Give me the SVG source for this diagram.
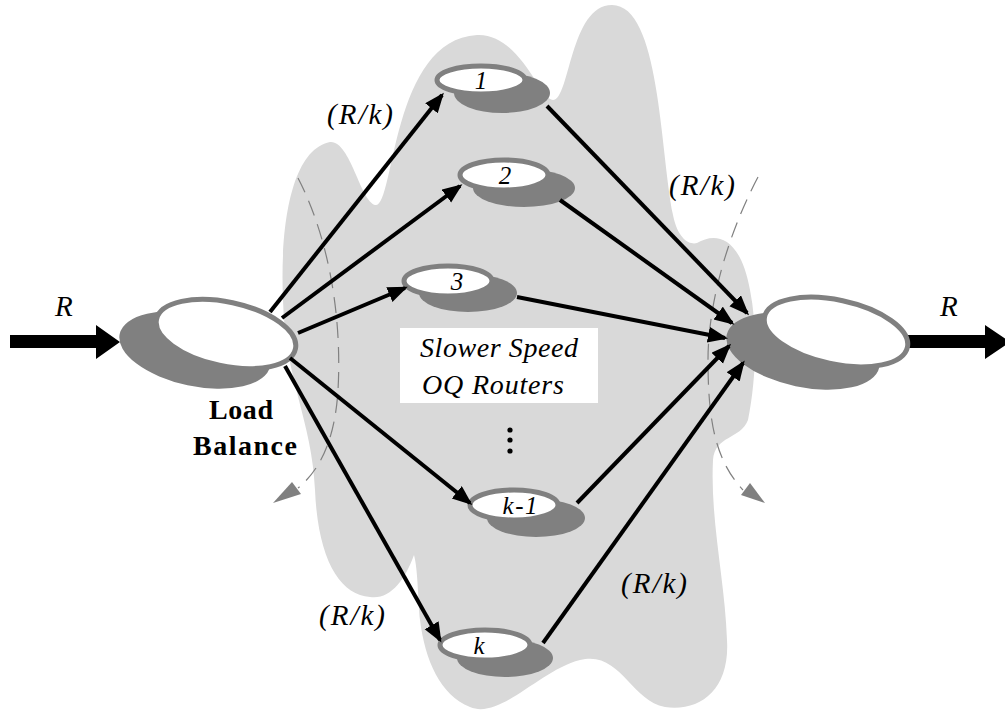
<svg xmlns="http://www.w3.org/2000/svg" width="1005" height="712" viewBox="0 0 1005 712">
<defs>
<style>
.shadow{fill:#808080;stroke:none}
.face{fill:#ffffff;stroke:#808080;stroke-width:5}
.conn{stroke:#000;stroke-width:4;fill:none;marker-end:url(#ah)}
.dash{stroke:#808080;stroke-width:1.2;fill:none;stroke-dasharray:16 9}
.lbl{font-family:"Liberation Serif","DejaVu Serif",serif;font-style:italic;font-size:29px;fill:#000}
.txt{font-family:"Liberation Serif","DejaVu Serif",serif;font-style:italic;font-size:28px;fill:#000;text-anchor:middle}
.num{font-family:"Liberation Serif","DejaVu Serif",serif;font-style:italic;font-size:25px;fill:#000;text-anchor:middle}
.bold{font-family:"Liberation Serif","DejaVu Serif",serif;font-weight:bold;font-size:28px;fill:#000;text-anchor:middle}
</style>
<marker id="ah" markerUnits="userSpaceOnUse" markerWidth="22" markerHeight="18" refX="17" refY="8" orient="auto">
<path d="M0,0 L20,8 L0,16 Z" fill="#000"/>
</marker>
</defs>
<rect width="1005" height="712" fill="#fff"/>
<g id="cloud">
<path d="M283,300 C280,230 290,150 330,142 C350,140 360,200 375,205 C395,210 390,40 477,35 C520,33 540,100 553,100 C570,100 570,5 612,5 C660,5 660,150 673,215 C678,240 690,245 697,243 C715,232 740,235 750,290 C758,330 756,380 748,420 C740,440 715,435 713,460 C710,520 725,580 727,640 C730,690 700,712 665,707 C630,700 620,650 580,660 C540,670 500,720 470,707 C440,695 425,660 420,620 C418,600 418,570 414,555 C405,580 390,600 370,597 C340,595 318,560 315,490 C312,420 285,380 283,300 Z" fill="#d9d9d9"/>
</g>
<g id="dashed-curves">
<path class="dash" d="M298,178 C330,240 342,320 338,390 C335,440 320,470 298,488"/>
<path d="M273,503 L292,482 L301,494 Z" fill="#808080"/>
<path class="dash" d="M758,177 C730,230 708,300 708,360 C708,420 715,460 743,490"/>
<path d="M765,503 L741,495 L750,483 Z" fill="#808080"/>
</g>
<g id="input-arrow">
<path d="M10,335 H96 V325 L120,342 L96,359 V348 H10 Z" fill="#000"/>
<text class="lbl" x="55" y="316">R</text>
</g>
<g id="output-arrow">
<path d="M905,335 H985 V325 L1010,342 L985,359 V348 H905 Z" fill="#000"/>
<text class="lbl" x="940" y="316">R</text>
</g>
<g id="load-balance">
<ellipse class="shadow" cx="195" cy="350" rx="77" ry="36" transform="rotate(12 195 350)"/>
<ellipse class="face" cx="226" cy="334" rx="71" ry="32" transform="rotate(12 226 334)"/>
<text class="bold" x="241" y="419" textLength="64" lengthAdjust="spacing">Load</text>
<text class="bold" x="245" y="455" textLength="104" lengthAdjust="spacing">Balance</text>
</g>
<g id="output-router">
<ellipse class="shadow" cx="803" cy="351" rx="78" ry="36" transform="rotate(12 803 351)"/>
<ellipse class="face" cx="836" cy="332" rx="73" ry="32" transform="rotate(12 836 332)"/>
</g>
<g id="router-1">
<ellipse class="shadow" cx="502" cy="93" rx="48" ry="20"/>
<ellipse class="face" cx="481" cy="80" rx="44" ry="14"/>
<text class="num" x="481" y="89">1</text>
</g>
<g id="router-2">
<ellipse class="shadow" cx="524" cy="188" rx="51" ry="19"/>
<ellipse class="face" cx="504" cy="175" rx="44" ry="15"/>
<text class="num" x="505" y="184">2</text>
</g>
<g id="router-3">
<ellipse class="shadow" cx="468" cy="293" rx="49" ry="19"/>
<ellipse class="face" cx="448" cy="281" rx="44" ry="15"/>
<text class="num" x="457" y="290">3</text>
</g>
<g id="router-k-1">
<ellipse class="shadow" cx="536" cy="518" rx="49" ry="19"/>
<ellipse class="face" cx="514" cy="505" rx="44" ry="15"/>
<text class="num" x="520" y="514" textLength="35" lengthAdjust="spacing">k-1</text>
</g>
<g id="router-k">
<ellipse class="shadow" cx="505" cy="658" rx="48" ry="19"/>
<ellipse class="face" cx="485" cy="645" rx="45" ry="15"/>
<text class="num" x="479" y="654">k</text>
</g>
<g id="label-box">
<rect x="400" y="328" width="198" height="75" fill="#fff"/>
<text class="txt" x="499" y="357" textLength="158" lengthAdjust="spacing">Slower Speed</text>
<text class="txt" x="493" y="394" textLength="142" lengthAdjust="spacing">OQ Routers</text>
<circle cx="510" cy="430" r="2.6" fill="#000"/>
<circle cx="510" cy="440" r="2.6" fill="#000"/>
<circle cx="510" cy="451" r="2.6" fill="#000"/>
</g>
<g id="connectors">
<line class="conn" x1="270" y1="312" x2="442" y2="95"/>
<line class="conn" x1="282" y1="318" x2="460" y2="186"/>
<line class="conn" x1="298" y1="333" x2="405" y2="288"/>
<line class="conn" x1="290" y1="358" x2="470" y2="503"/>
<line class="conn" x1="285" y1="366" x2="440" y2="640"/>
<line class="conn" x1="547" y1="106" x2="747" y2="313"/>
<line class="conn" x1="560" y1="200" x2="732" y2="323"/>
<line class="conn" x1="517" y1="297" x2="725" y2="338"/>
<line class="conn" x1="577" y1="503" x2="729" y2="346"/>
<line class="conn" x1="543" y1="643" x2="743" y2="363"/>
</g>
<g id="rate-labels">
<text class="lbl" x="327" y="124" textLength="66" lengthAdjust="spacing">(R/k)</text>
<text class="lbl" x="669" y="195" textLength="66" lengthAdjust="spacing">(R/k)</text>
<text class="lbl" x="319" y="625" textLength="66" lengthAdjust="spacing">(R/k)</text>
<text class="lbl" x="621" y="593" textLength="66" lengthAdjust="spacing">(R/k)</text>
</g>
</svg>
